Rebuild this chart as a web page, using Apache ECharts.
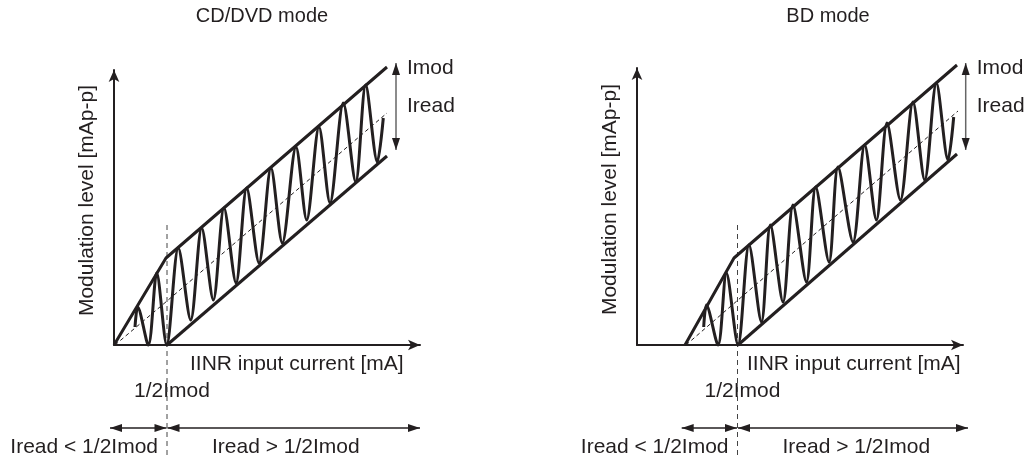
<!DOCTYPE html>
<html>
<head>
<meta charset="utf-8">
<script src="https://cdn.jsdelivr.net/npm/echarts@6/dist/echarts.min.js"></script>
<style>
  html, body { margin: 0; padding: 0; background: #fff; }
  #chart { width: 1033px; height: 459px; }
</style>
</head>
<body>
<div id="chart"></div>
<script>
const FONT = '"Liberation Sans", Arial, Helvetica, sans-serif'
const INK = '#231f20'

const panelTitles = ['CD/DVD mode', 'BD mode']
const yName = 'Modulation level [mAp-p]'
const xName = 'IINR input current [mA]'

// CD/DVD mode (x: input current, y: modulation level, arbitrary units)
const cdUpper = [[0, 0], [52, 87], [273, 278]]
const cdLower = [[53, 0], [273, 189]]
const cdMid = [[1, 0], [53, 44], [273, 232]]
const cdHalfImod = 53
const cdWave = [
  [21, 18], [23.7, 38], [34.3, 0], [42.7, 72], [52.7, 0], [64.3, 97], [76.7, 25],
  [87.7, 117], [99.3, 45], [110, 137], [122, 62], [132.7, 157], [145, 82],
  [157, 177], [168.3, 102], [182, 198], [192.7, 125], [205, 218], [216, 142],
  [229.3, 242], [241.7, 163], [251.7, 260], [263.3, 183], [269.3, 227]
]
const cdImodArrow = [282, 282, 195] // x, top, bottom

// BD mode
const bdUpper = [[48, 0], [97, 87], [320, 280]]
const bdLower = [[101, 0], [320, 191]]
const bdMid = [[49, 0], [101, 45], [321, 234]]
const bdHalfImod = 100.5
const bdWave = [
  [66.7, 18], [69.4, 40], [81, 0], [89.4, 72], [101, 0], [112, 100], [124.4, 23],
  [133.4, 120], [146, 43], [156, 140], [169.4, 63], [178.7, 158], [192, 83],
  [201, 178], [216, 103], [227.7, 200], [239.4, 125], [250, 222], [263.4, 145],
  [276, 243], [287.7, 165], [299.4, 262], [311, 185], [316.7, 228]
]
const bdImodArrow = [328.7, 282, 195]

const xMax = [306, 326]
const yMax = [275, 277]

const chart = echarts.init(document.getElementById('chart'))

function axisLine() {
  return {
    show: true,
    onZero: false,
    symbol: ['none', 'arrow'],
    symbolSize: [8, 12],
    lineStyle: { color: INK, width: 2 }
  }
}

function panelSeries(i, upper, lower, mid, wave, half) {
  const base = { type: 'line', xAxisIndex: i, yAxisIndex: i, showSymbol: false, silent: true, animation: false }
  return [
    Object.assign({}, base, { data: mid, lineStyle: { color: INK, width: 1, type: [4, 3] } }),
    Object.assign({}, base, { data: [[half, 120], [half, -110]], clip: false, lineStyle: { color: '#444', width: 1, type: [5, 4] } }),
    Object.assign({}, base, { data: wave, smooth: 0.3, clip: false, lineStyle: { color: INK, width: 3 } }),
    Object.assign({}, base, { data: upper, clip: false, lineStyle: { color: INK, width: 3 } }),
    Object.assign({}, base, { data: lower, clip: false, lineStyle: { color: INK, width: 3 } })
  ]
}

chart.setOption({
  backgroundColor: '#fff',
  grid: [
    { left: 114, top: 70, width: xMax[0], height: yMax[0] },
    { left: 637, top: 68, width: xMax[1], height: yMax[1] }
  ],
  xAxis: [0, 1].map(i => ({
    type: 'value', gridIndex: i, min: 0, max: xMax[i],
    axisLine: axisLine(), axisTick: { show: false }, axisLabel: { show: false }, splitLine: { show: false }
  })),
  yAxis: [0, 1].map(i => ({
    type: 'value', gridIndex: i, min: 0, max: yMax[i],
    name: yName, nameLocation: 'middle', nameGap: 16, nameRotate: 90,
    nameTextStyle: { fontSize: 21, color: INK, fontFamily: FONT, padding: [0, 0, 0, 14] },
    axisLine: axisLine(), axisTick: { show: false }, axisLabel: { show: false }, splitLine: { show: false }
  })),
  series: [
    ...panelSeries(0, cdUpper, cdLower, cdMid, cdWave, cdHalfImod),
    ...panelSeries(1, bdUpper, bdLower, bdMid, bdWave, bdHalfImod)
  ]
})

// annotations: arrows and labels
function head(tip, dx, dy, len, wid, color) {
  const px = -dy, py = dx
  return {
    type: 'polygon', silent: true,
    shape: { points: [
      tip,
      [tip[0] - dx * len + px * wid / 2, tip[1] - dy * len + py * wid / 2],
      [tip[0] - dx * len - px * wid / 2, tip[1] - dy * len - py * wid / 2]
    ] },
    style: { fill: color }
  }
}

function dblArrow(a, b, lineColor, lineWidth) {
  const L = Math.hypot(b[0] - a[0], b[1] - a[1])
  const dx = (b[0] - a[0]) / L, dy = (b[1] - a[1]) / L
  return [
    { type: 'line', silent: true, shape: { x1: a[0], y1: a[1], x2: b[0], y2: b[1] }, style: { stroke: lineColor, lineWidth: lineWidth } },
    head(a, -dx, -dy, 12, 8, INK),
    head(b, dx, dy, 12, 8, INK)
  ]
}

function text(str, x, y, align, size) {
  return {
    type: 'text', silent: true, x: x, y: y,
    style: { text: str, font: (size || 21) + 'px ' + FONT, fill: INK, align: align || 'left', verticalAlign: 'middle' }
  }
}

const g = []
const panels = [
  { half: cdHalfImod, imod: cdImodArrow, title: 262, rangeL: -4, rangeR: 306, xLabel: 190 },
  { half: bdHalfImod, imod: bdImodArrow, title: 828, rangeL: 44.7, rangeR: 331, xLabel: 747 }
]
panels.forEach((p, i) => {
  const toPx = v => chart.convertToPixel({ gridIndex: i }, v)
  const halfX = toPx([p.half, 0])[0]
  const top = toPx([p.imod[0], p.imod[1]])
  const bot = toPx([p.imod[0], p.imod[2]])
  g.push(text(panelTitles[i], p.title, 16, 'center', 20))
  g.push(...dblArrow(top, bot, '#666', 1.5))
  g.push(text('Imod', top[0] + 11, top[1] + 5))
  g.push(text('Iread', top[0] + 11, top[1] + 43))
  g.push(text(xName, p.xLabel, 364))
  g.push(text('1/2Imod', halfX + 5, 391, 'center'))
  const y = 428
  const left = toPx([p.rangeL, 0])[0]
  const right = toPx([p.rangeR, 0])[0]
  g.push(...dblArrow([left, y], [halfX - 0.5, y], INK, 1.5))
  g.push(...dblArrow([halfX + 0.5, y], [right, y], INK, 1.5))
  g.push(text('Iread < 1/2Imod', halfX - 9, 447, 'right'))
  g.push(text('Iread > 1/2Imod', halfX + 45, 447, 'left'))
})
chart.setOption({ graphic: g })
</script>
</body>
</html>
